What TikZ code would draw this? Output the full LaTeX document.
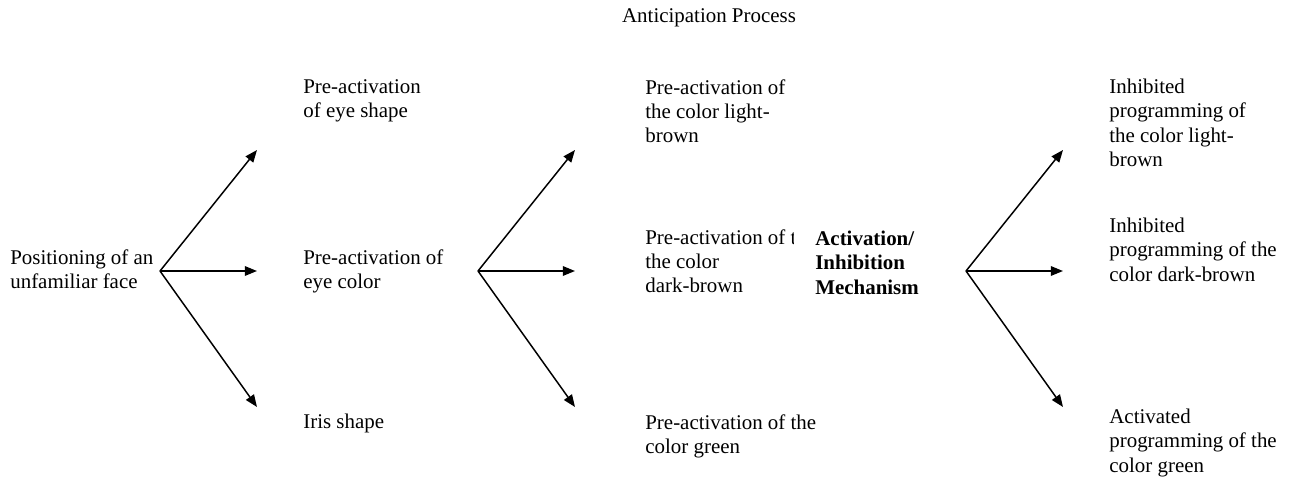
\documentclass[tikz,border=0pt]{standalone}
\usepackage{fontspec}
\setmainfont{Liberation Serif}
\usetikzlibrary{arrows.meta}

\tikzset{
  lbl/.style={anchor=north west, inner sep=0pt, align=left, font=\fontsize{12}{13.8}\selectfont},
  mech/.style={lbl, font=\fontsize{12}{13.8}\selectfont\bfseries},
  fan/.style={-{Triangle[length=7pt,width=5.5pt]}, line width=0.85pt}
}

\begin{document}
\begin{tikzpicture}[x=0.5734pt, y=-0.5734pt]
  \useasboundingbox (0,0) rectangle (1290,479);
  \node[lbl, anchor=north] (title) at (709,8) {Anticipation Process};

  % left column
  \node[lbl] (face) at (10,249) {Positioning of an\\unfamiliar face};

  % eye features
  \node[lbl] (shape) at (303,79) {Pre-activation\\of eye shape};
  \node[lbl] (eyecol) at (303,249) {Pre-activation of\\eye color};
  \node[lbl] (iris) at (303,414) {Iris shape};

  % colours
  \node[lbl] (light) at (645,79) {Pre-activation of\\the color light-\\brown};
  \begin{scope}
    \clip (640,200) rectangle (793,320);
    \node[lbl] (dark) at (645,229) {Pre-activation of t\\the color\\dark-brown};
  \end{scope}
  \node[lbl] (green) at (645,414) {Pre-activation of the\\color green};
  \node[mech] (mech) at (815,231) {Activation/\\Inhibition\\Mechanism};

  % programming
  \node[lbl] (inhlight) at (1109,79) {Inhibited\\programming of\\the color light-\\brown};
  \node[lbl] (inhdark) at (1109,218) {Inhibited\\programming of the\\color dark-brown};
  \node[lbl] (actgreen) at (1109,409) {Activated\\programming of the\\color green};

  % fans of arrows
  \foreach \o/\x in {f1/160, f2/478, f3/966} {
    \coordinate (\o) at (\x,271);
    \coordinate (\o-up) at (\x+97,150);
    \coordinate (\o-mid) at (\x+97,271);
    \coordinate (\o-low) at (\x+97,407);
  }
  \foreach \o in {f1,f2,f3}
    \foreach \t in {up,mid,low}
      \draw[fan] (\o) -- (\o-\t);
\end{tikzpicture}
\end{document}
